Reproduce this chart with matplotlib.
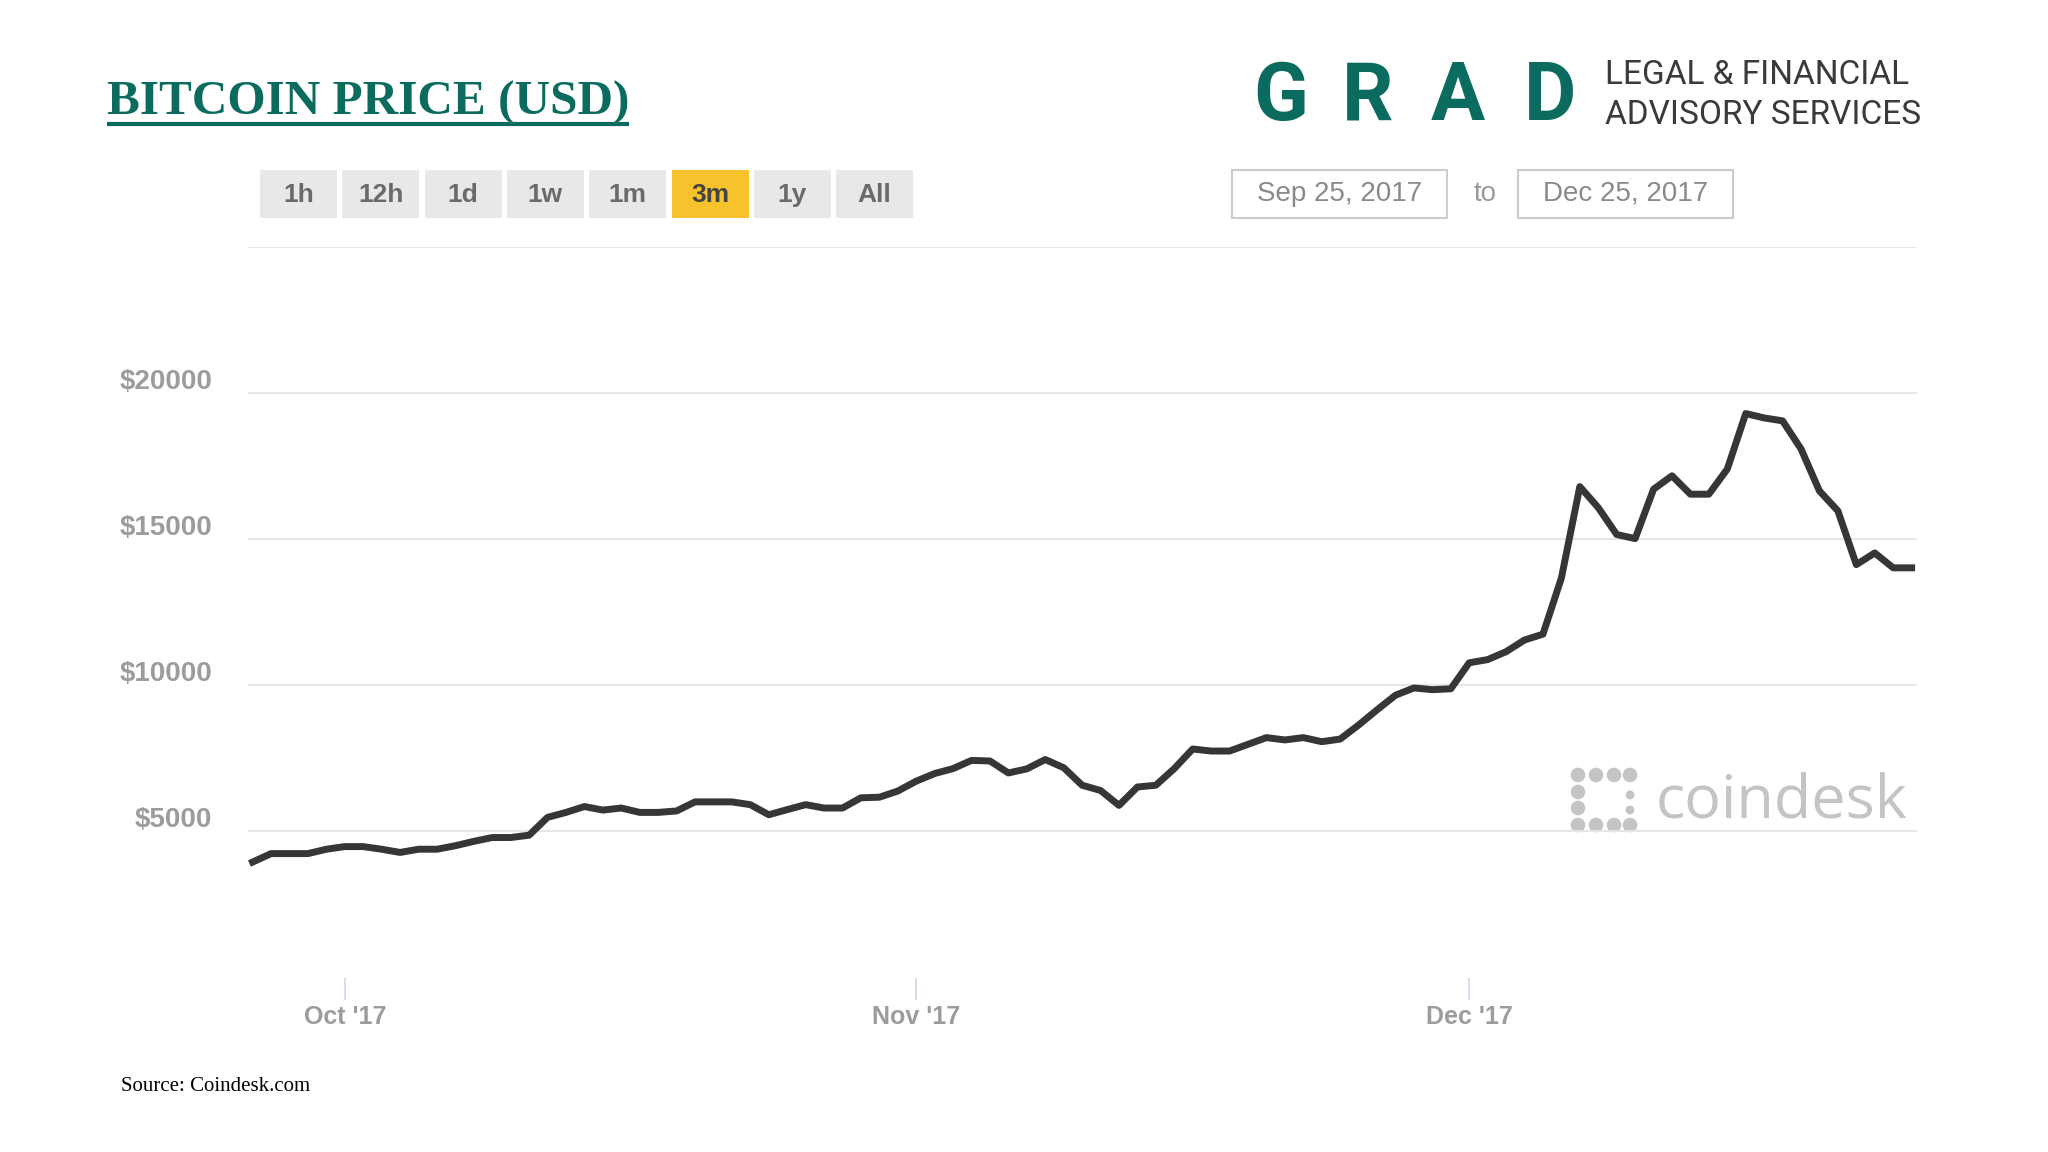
import matplotlib.pyplot as plt
import pandas as pd
from matplotlib.patches import Rectangle
from matplotlib.transforms import ScaledTranslation

# daily close, Sep 26 .. Dec 25 2017
dates = pd.date_range("2017-09-26", "2017-12-25", freq="D")
prices = [
    3950, 4240, 4240, 4240, 4390, 4480, 4480, 4390, 4280, 4390,
    4390, 4510, 4660, 4790, 4790, 4870, 5480, 5650, 5850, 5730,
    5800, 5650, 5650, 5700, 6010, 6010, 6010, 5915, 5570, 5745,
    5915, 5800, 5800, 6150, 6170, 6380, 6720, 6980, 7150, 7430,
    7410, 7000, 7140, 7460, 7180, 6580, 6400, 5890, 6520, 6580,
    7150, 7820, 7750, 7750, 7980, 8210, 8130, 8210, 8070, 8160,
    8640, 9160, 9660, 9910, 9850, 9880, 10770, 10880, 11150, 11550,
    11750, 13670, 16800, 16080, 15160, 15020, 16710, 17170, 16540, 16540,
    17400, 19300, 19150, 19050, 18090, 16650, 15970, 14130, 14530, 14020,
    14020,
]

y_ticks = [5000, 10000, 15000, 20000]
y_labels = ["$5000", "$10000", "$15000", "$20000"]
grid_levels = [5000, 10000, 15000, 20000, 25000]
x_tick_dates = pd.to_datetime(["2017-10-01", "2017-11-01", "2017-12-01"])
x_tick_labels = ["Oct '17", "Nov '17", "Dec '17"]
buttons = ["1h", "12h", "1d", "1w", "1m", "3m", "1y", "All"]
selected = "3m"
date_from, date_to = "Sep 25, 2017", "Dec 25, 2017"

TEAL = "#0a6b5e"
LABEL_GREY = "#9c9c9c"

fig = plt.figure(figsize=(20.48, 11.52), dpi=100)
fig.set_facecolor("white")

# overlay in pixel coords for the page furniture
bg = fig.add_axes([0, 0, 1, 1], zorder=0)
bg.set_xlim(0, 2048)
bg.set_ylim(1152, 0)
bg.axis("off")

ax = fig.add_axes([248 / 2048, 1 - 977.5 / 1152, 1669 / 2048, (977.5 - 247) / 1152], zorder=1)
ax.set_facecolor("none")

for lvl in grid_levels:
    ax.axhline(lvl, color="#e6e6e6", lw=1.5, zorder=1)

ax.plot(dates, prices, color="#363636", lw=5, zorder=3)

ax.set_ylim(0, 25000)
ax.set_xlim(pd.Timestamp("2017-09-25 18:00"), pd.Timestamp("2017-12-25 07:00"))

ax.set_yticks([])
ylab_tf = ax.get_yaxis_transform() + ScaledTranslation(-0.36, 0.11, fig.dpi_scale_trans)
for v, lab in zip(y_ticks, y_labels):
    ax.text(0, v, lab, transform=ylab_tf, ha="right", va="center",
            fontsize=20, fontweight="bold", color=LABEL_GREY, family="Liberation Sans")

ax.set_xticks(x_tick_dates)
ax.set_xticklabels(x_tick_labels, fontweight="bold", family="Liberation Sans")
ax.tick_params(axis="x", length=16, width=1.2, color="#ccd6eb", pad=4,
               labelsize=18, labelcolor=LABEL_GREY)
for s in ax.spines.values():
    s.set_visible(False)

# title with underline
title = bg.text(107, 115, "BITCOIN PRICE (USD)", family="Liberation Serif",
                fontweight="bold", fontsize=35.5, color=TEAL, va="baseline")
fig.canvas.draw()
bb = title.get_window_extent()
bg.plot([bb.x0, bb.x1], [124, 124], color=TEAL, lw=3, solid_capstyle="butt")

# GRAD logo
for cx, letter in zip([1281, 1368, 1458, 1550], "GRAD"):
    bg.text(cx, 120, letter, ha="center", va="baseline", family="Roboto",
            fontweight="bold", fontsize=58, color=TEAL)
bg.text(1605, 84, "LEGAL & FINANCIAL", family="Roboto", fontsize=24,
        color="#3a3a3a", va="baseline")
bg.text(1605, 124, "ADVISORY SERVICES", family="Roboto", fontsize=24,
        color="#3a3a3a", va="baseline")

# range buttons
for i, b in enumerate(buttons):
    x = 260 + i * 82.3
    fc = "#f8c22c" if b == selected else "#e8e8e8"
    bg.add_patch(Rectangle((x, 170), 77, 48, facecolor=fc, edgecolor="none"))
    bg.text(x + 38.5, 195, b, ha="center", va="center", family="Liberation Sans",
            fontweight="bold", fontsize=19,
            color="#444444" if b == selected else "#6a6a6a")

# date range boxes
for x0, txt in [(1232, date_from), (1518, date_to)]:
    bg.add_patch(Rectangle((x0, 170), 215, 48, facecolor="white",
                           edgecolor="#cccccc", lw=1.5))
    bg.text(x0 + 107.5, 194, txt, ha="center", va="center", family="Liberation Sans",
            fontsize=20, color="#8a8a8a")
bg.text(1485, 194, "to", ha="center", va="center", family="Liberation Sans",
        fontsize=20, color="#9a9a9a")

# coindesk watermark
icon_x = [1578, 1596, 1614, 1630, 1578, 1596, 1614, 1630, 1578, 1578, 1630, 1630]
icon_y = [775, 775, 775, 775, 825, 825, 825, 825, 792, 808, 795, 810]
icon_s = [110] * 10 + [40, 40]
bg.scatter(icon_x, icon_y, s=icon_s, color="#c4c4c4", linewidths=0)
bg.text(1656, 818, "coindesk", family="Open Sans", fontsize=44,
        color="#c4c4c4", va="baseline")

bg.text(121, 1091, "Source: Coindesk.com", family="Liberation Serif",
        fontsize=15, color="black", va="baseline")

plt.savefig("out.png", dpi=100, facecolor="white")
